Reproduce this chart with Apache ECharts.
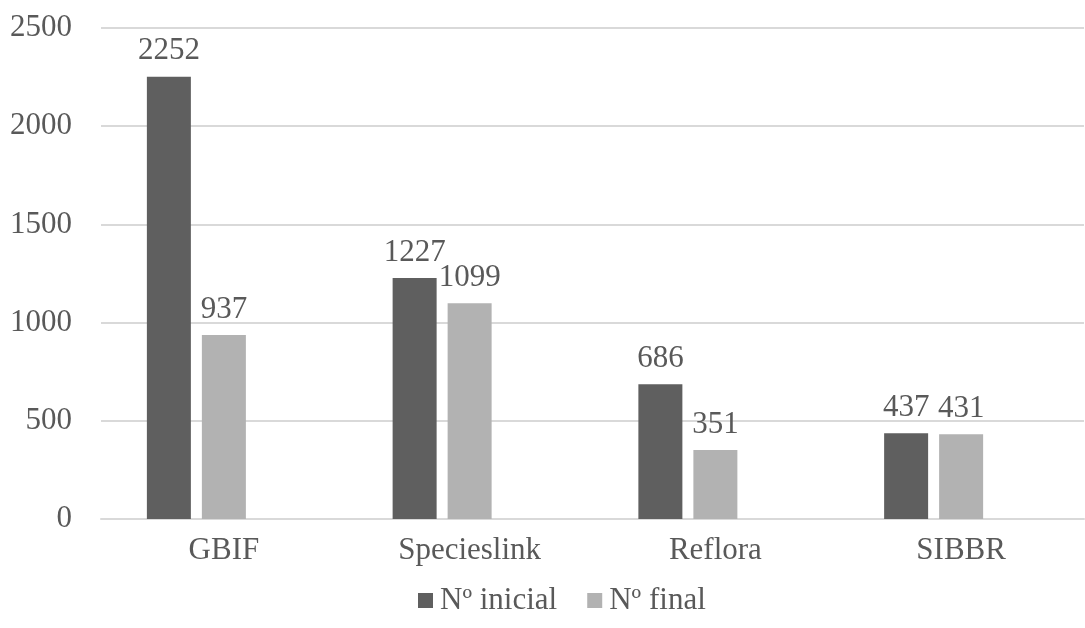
<!DOCTYPE html>
<html>
<head>
<meta charset="utf-8">
<script src="https://cdn.jsdelivr.net/npm/echarts@6/dist/echarts.min.js"></script>
<style>
html,body{margin:0;padding:0;background:#fff;}
#chart{width:1085px;height:628px;}
</style>
</head>
<body>
<div id="chart"></div>
<script>
const categories = ['GBIF', 'Specieslink', 'Reflora', 'SIBBR'];
const inicial = [2252, 1227, 686, 437];
const finalVals = [937, 1099, 351, 431];
// the source chart reserves a third (empty) bar slot in each group
const emptySlot = [null, null, null, null];
const seriesNames = ['Nº inicial', 'Nº final'];
const yTicks = [0, 500, 1000, 1500, 2000, 2500];

const FONT = 'Liberation Serif';
const TXT = '#595959';
const FS = 31;
const chart = echarts.init(document.getElementById('chart'));
chart.setOption({
  animation: false,
  backgroundColor: '#fff',
  textStyle: { fontFamily: FONT, color: TXT },
  grid: { left: 101, right: 1, top: 28, bottom: 109, containLabel: false },
  legend: {
    bottom: 12,
    left: 418,
    padding: 0,
    itemWidth: 15,
    itemHeight: 15,
    itemGap: 30,
    icon: 'rect',
    textStyle: { fontFamily: FONT, fontSize: FS, color: TXT, padding: [0, 0, 0, 2] },
    data: seriesNames
  },
  xAxis: {
    type: 'category',
    data: categories,
    axisLine: { show: true, lineStyle: { color: '#d9d9d9', width: 2 } },
    axisTick: { show: false },
    axisLabel: { fontFamily: FONT, fontSize: FS, color: TXT, margin: 16 }
  },
  yAxis: {
    type: 'value',
    min: yTicks[0], max: yTicks[yTicks.length - 1], interval: yTicks[1] - yTicks[0],
    axisLine: { show: false },
    axisTick: { show: false },
    splitLine: { lineStyle: { color: '#d9d9d9', width: 2 } },
    axisLabel: { fontFamily: FONT, fontSize: FS, color: TXT, margin: 29, formatter: v => String(v) }
  },
  series: [
    {
      name: seriesNames[0], type: 'bar', data: inicial,
      barWidth: 44, barGap: '25%',
      itemStyle: { color: '#5f5f5f' },
      label: { show: true, position: 'top', distance: 10, fontFamily: FONT, fontSize: FS, color: TXT }
    },
    {
      name: seriesNames[1], type: 'bar', data: finalVals,
      barWidth: 44, barGap: '25%',
      itemStyle: { color: '#b2b2b2' },
      label: { show: true, position: 'top', distance: 10, fontFamily: FONT, fontSize: FS, color: TXT }
    },
    {
      name: 'empty', type: 'bar', data: emptySlot,
      barWidth: 44, barGap: '25%',
      itemStyle: { color: 'transparent' },
      label: { show: false }
    }
  ]
});
</script>
</body>
</html>
